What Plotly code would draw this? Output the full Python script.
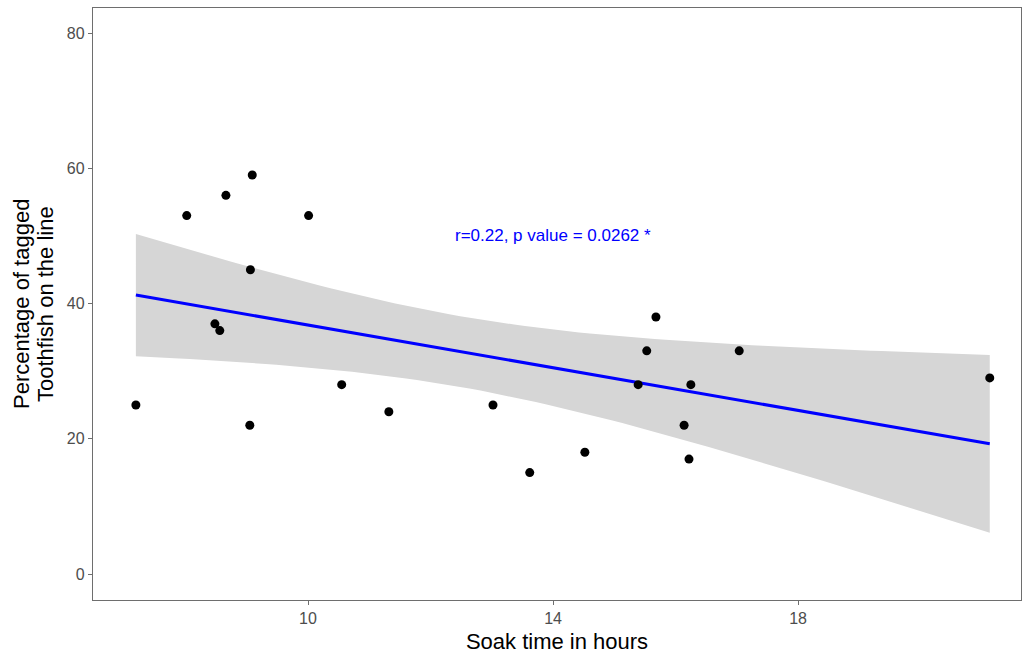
import numpy as np
import plotly.graph_objects as go

# Data
soak_hours = [7.19, 8.02, 8.48, 8.56, 8.66, 9.05, 9.06, 9.09, 10.01, 10.55, 11.32,
              13.02, 13.62, 14.52, 15.39, 15.53, 15.68, 16.14, 16.22, 16.25, 17.04, 21.13]
pct_tagged = [25, 53, 37, 36, 56, 22, 45, 59, 53, 28, 24,
              25, 15, 18, 28, 33, 38, 22, 17, 28, 33, 29]
annotation_text = "r=0.22, p value = 0.0262 *"
y_title_lines = ["Percentage of tagged", "Toothfish on the line"]
x_title = "Soak time in hours"
x_ticks = [10, 14, 18]
y_ticks = [0, 20, 40, 60, 80]

# Linear fit with 95% confidence band (like geom_smooth(method="lm"))
x = np.array(soak_hours)
y = np.array(pct_tagged)
n = len(x)
b1, b0 = np.polyfit(x, y, 1)
resid = y - (b0 + b1 * x)
s = np.sqrt(np.sum(resid ** 2) / (n - 2))
sxx = np.sum((x - x.mean()) ** 2)
t_crit = 2.086  # t(0.975, df=20)
xs = np.linspace(x.min(), x.max(), 80)
ys = b0 + b1 * xs
se = s * np.sqrt(1.0 / n + (xs - x.mean()) ** 2 / sxx)
upper = ys + t_crit * se
lower = ys - t_crit * se

FONT = "Liberation Sans, Arial"

fig = go.Figure()
fig.add_trace(go.Scatter(
    x=np.concatenate([xs, xs[::-1]]), y=np.concatenate([upper, lower[::-1]]),
    fill="toself", fillcolor="rgb(214,214,214)", line=dict(width=0),
    mode="lines", hoverinfo="skip", showlegend=False))
fig.add_trace(go.Scatter(x=xs, y=ys, mode="lines",
                         line=dict(color="#0000ff", width=3), showlegend=False))
fig.add_trace(go.Scatter(x=soak_hours, y=pct_tagged, mode="markers",
                         marker=dict(color="black", size=9), showlegend=False))

fig.add_annotation(x=14, y=50, text=annotation_text, showarrow=False,
                   font=dict(color="#0000ff", size=17, family=FONT),
                   xanchor="center", yanchor="middle")

# Two-line y-axis title with tight line spacing
for line_text, shift in zip(y_title_lines, [-72, -48]):
    fig.add_annotation(xref="paper", yref="paper", x=0, y=0.5, xshift=shift,
                       text=line_text, textangle=-90, showarrow=False,
                       xanchor="center", yanchor="middle",
                       font=dict(size=22, color="black", family=FONT))

axis_common = dict(showline=True, linecolor="#6e6e6e", linewidth=1.3, mirror=True,
                   showgrid=False, zeroline=False, ticks="outside", ticklen=4,
                   tickcolor="#6e6e6e", tickwidth=1.2,
                   tickfont=dict(size=16, color="#4d4d4d", family=FONT))

fig.update_xaxes(range=[6.49, 21.64], tickvals=x_ticks,
                 title=dict(text=x_title, standoff=7,
                            font=dict(size=22, color="black", family=FONT)),
                 **axis_common)
fig.update_yaxes(range=[-3.84, 83.7], tickvals=y_ticks, **axis_common)

fig.update_layout(width=1022, height=657, plot_bgcolor="white", paper_bgcolor="white",
                  margin=dict(l=93, r=1, t=8, b=57, autoexpand=False), showlegend=False)

fig.write_html("out.html", config={"displayModeBar": False},
               post_script="document.body.style.margin='0';")
